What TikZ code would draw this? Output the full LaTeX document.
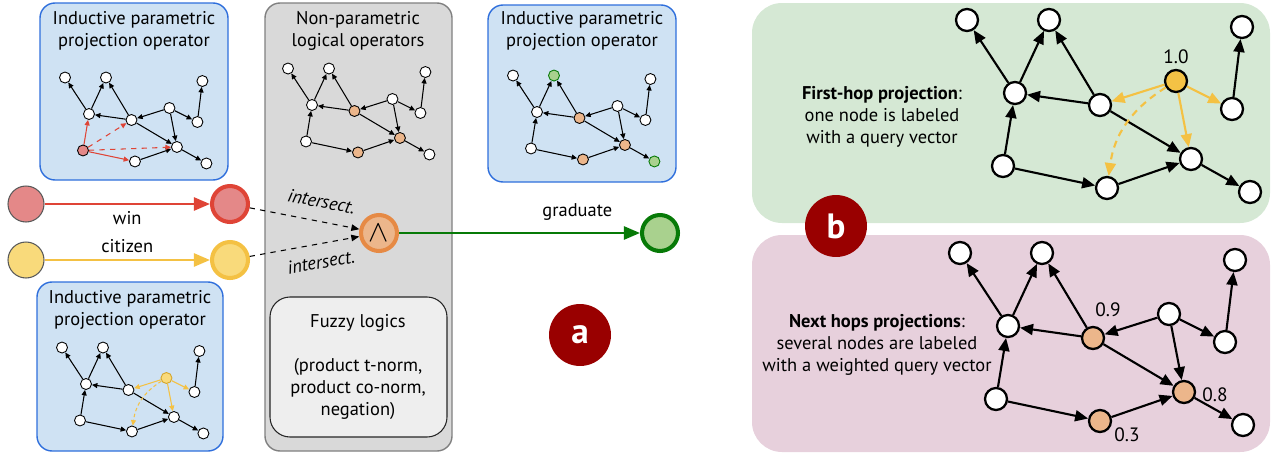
\documentclass[tikz,border=0pt]{standalone}
\usepackage{fontspec}
\setmainfont{PT Sans}
\usetikzlibrary{arrows.meta,positioning}

\definecolor{boxblue}{HTML}{CFE2F3}
\definecolor{boxblueline}{HTML}{2F6FDC}
\definecolor{logicfill}{HTML}{D9D9D9}
\definecolor{logicline}{HTML}{808080}
\definecolor{fuzzyfill}{HTML}{EEEEEE}
\definecolor{greenpanel}{HTML}{D5E8D4}
\definecolor{pinkpanel}{HTML}{E7D0DC}
\definecolor{badgered}{HTML}{990000}
\definecolor{rednode}{HTML}{E48888}
\definecolor{redline}{HTML}{DF4436}
\definecolor{yellownode}{HTML}{F9DA7B}
\definecolor{yellowline}{HTML}{F4C143}
\definecolor{yellowdark}{HTML}{D4A52A}
\definecolor{bigyellow}{HTML}{F4C245}
\definecolor{orangenode}{HTML}{ECB68B}
\definecolor{orangeline}{HTML}{E68A45}
\definecolor{greennode}{HTML}{A9D18E}
\definecolor{greenline}{HTML}{077A07}

\tikzset{
 nA/.style={}, nB/.style={}, nC/.style={}, nD/.style={}, nE/.style={}, nF/.style={},
 nG/.style={}, nH/.style={}, nI/.style={}, nJ/.style={}, nK/.style={},
 fromF/.style={}, fromH/.style={},
 kg/.style={circle, draw, fill=white, inner sep=0pt},
 kge/.style={draw},
 small graph/.style={x=0.01cm, y=-0.01cm,
  kg/.append style={minimum size=0.22cm, line width=0.5pt},
  kge/.append style={line width=0.6pt, -{Triangle[length=1.1mm,width=1mm]}}},
 big graph/.style={
  kg/.append style={minimum size=0.44cm, line width=1.3pt},
  kge/.append style={line width=1.2pt, -{Triangle[length=2.6mm,width=2.2mm]}}},
 opbox/.style={draw=boxblueline, fill=boxblue, line width=0.8pt, rounded corners=0.3cm},
 logicbox/.style={draw=logicline, fill=logicfill, line width=0.8pt, rounded corners=0.3cm},
 fuzzybox/.style={draw=black!85, fill=fuzzyfill, line width=0.6pt, rounded corners=0.4cm},
 hopbox/.style={rounded corners=0.6cm},
 title/.style={align=center},
 numlab/.style={font=\fontsize{11}{13}\selectfont},
 badge/.style={circle, fill=badgered, text=white, minimum size=1.24cm, inner sep=0pt,
  font=\fontsize{20}{24}\selectfont\bfseries},
 srcnode/.style={circle, draw=black!65, line width=0.6pt, minimum size=0.72cm, inner sep=0pt},
 relnode/.style={circle, line width=2.3pt, minimum size=0.72cm, inner sep=0pt},
 rel/.style={line width=1.4pt, -{Triangle[length=3.2mm,width=2.6mm]}},
 meet/.style={dashed, line width=0.6pt, -{Triangle[length=1.6mm,width=1.3mm]}},
}

% the same knowledge graph in every panel
\newcommand{\kgnodes}[1]{%
 \node[kg,nA] (#1A) at (-48,-73) {};%
 \node[kg,nB] (#1B) at (34,-73) {};%
 \node[kg,nC] (#1C) at (227,-66) {};%
 \node[kg,nD] (#1D) at (0,0) {};%
 \node[kg,nE] (#1E) at (85,12) {};%
 \node[kg,nF] (#1F) at (161,-12) {};%
 \node[kg,nG] (#1G) at (217,16) {};%
 \node[kg,nH] (#1H) at (-12,73) {};%
 \node[kg,nI] (#1I) at (92,95) {};%
 \node[kg,nJ] (#1J) at (176,66) {};%
 \node[kg,nK] (#1K) at (235,99) {};%
}
\newcommand{\kgedges}[1]{%
 \draw[kge] (#1D) -- (#1A);%
 \draw[kge] (#1D) -- (#1B);%
 \draw[kge] (#1E) -- (#1B);%
 \draw[kge] (#1E) -- (#1D);%
 \draw[kge] (#1E) -- (#1J);%
 \draw[kge] (#1G) -- (#1C);%
 \draw[kge,fromF] (#1F) -- (#1E);%
 \draw[kge,fromF] (#1F) -- (#1G);%
 \draw[kge,fromF] (#1F) -- (#1J);%
 \draw[kge,fromH] (#1H) -- (#1D);%
 \draw[kge,fromH] (#1H) -- (#1I);%
 \draw[kge] (#1I) -- (#1J);%
 \draw[kge] (#1J) -- (#1K);%
}

\begin{document}
\begin{tikzpicture}[x=0.02cm, y=-0.02cm, every node/.style={font=\fontsize{10.5}{12.5}\selectfont}]
  \useasboundingbox (0,0) rectangle (1274,453);
  % panels
  \path[opbox] (40,3) rectangle (228,180);
  \path[logicbox] (265,3) rectangle (452,451);
  \path[opbox] (488,5) rectangle (676,182);
  \path[opbox] (37,282) rectangle (223,451);
  \path[fuzzybox] (270,297) rectangle (447,437);
  \path[hopbox, fill=greenpanel] (752,3) rectangle (1270,223);
  \path[hopbox, fill=pinkpanel] (752,235) rectangle (1270,452);

  \node[title] (tltitle) at (134,31) {Inductive parametric\\projection operator};
  \node[title] (nptitle) at (358,31) {Non-parametric\\logical operators};
  \node[title] (trtitle) at (582,31) {Inductive parametric\\projection operator};
  \node[title] (bltitle) at (130,310) {Inductive parametric\\projection operator};
  \node[title] (fuzzy) at (358,367) {Fuzzy logics\\[12.5pt](product t-norm,\\product co-norm,\\negation)};

  % small graphs
  \begin{scope}[shift={(89,114)}, small graph, nH/.style={fill=rednode}, fromH/.style={draw=redline}]
   \kgnodes{tl}
   \kgedges{tl}
   \draw[kge, draw=redline, dashed] (tlH) -- (tlE);
   \draw[kge, draw=redline, dashed] (tlH) -- (tlJ);
  \end{scope}
  \begin{scope}[shift={(312,105)}, small graph, nE/.style={fill=orangenode}, nI/.style={fill=orangenode}, nJ/.style={fill=orangenode}]
   \kgnodes{np}
   \kgedges{np}
  \end{scope}
  \begin{scope}[shift={(537,112)}, small graph, nE/.style={fill=orangenode}, nI/.style={fill=orangenode}, nJ/.style={fill=orangenode},
    nB/.style={fill=greennode, draw=greenline}, nK/.style={fill=greennode, draw=greenline}]
   \kgnodes{tr}
   \kgedges{tr}
  \end{scope}
  \begin{scope}[shift={(86,384)}, small graph, nF/.style={fill=yellownode, draw=yellowdark}, fromF/.style={draw=yellowline}]
   \kgnodes{bl}
   \kgedges{bl}
   \draw[kge, draw=yellowline, dash pattern=on 2pt off 1.5pt] (blF) to[bend right=25] (blI);
  \end{scope}

  % query
  \node[srcnode, fill=rednode] (winsrc) at (26,204) {};
  \node[relnode, fill=rednode, draw=redline] (wintgt) at (230,204) {};
  \node[srcnode, fill=yellownode] (citsrc) at (26,260) {};
  \node[relnode, fill=yellownode, draw=yellowline] (cittgt) at (230,260) {};
  \node[relnode, fill=orangenode, draw=orangeline] (andop) at (379,233) {\fontsize{17}{17}\selectfont$\wedge$};
  \node[relnode, fill=greennode, draw=greenline] (gradtgt) at (660,233) {};
  \draw[rel, draw=redline] (winsrc) -- node[below] (winlab) {win} (wintgt);
  \draw[rel, draw=yellowline] (citsrc) -- node[above] (citlab) {citizen} (cittgt);
  \draw[rel, draw=greenline] (andop) -- node[above=3pt, pos=0.74] (gradlab) {graduate} (gradtgt);
  \draw[meet] (wintgt) -- node[above=4pt, sloped, pos=0.62] (intup) {\itshape intersect.} (andop);
  \draw[meet] (cittgt) -- node[below=3pt, sloped, pos=0.62] (intdown) {\itshape intersect.} (andop);

  \node[badge] (bada) at (580,335) {a};

  % first hop
  \node[title] (fhtext) at (882,117) {\textbf{First-hop projection}:\\one node is labeled\\with a query vector};
  \begin{scope}[shift={(1015,93)}, big graph, nF/.style={fill=bigyellow}, fromF/.style={draw=yellowline}]
   \kgnodes{fh}
   \kgedges{fh}
   \draw[kge, draw=yellowline, dash pattern=on 4pt off 3pt] (fhF) to[bend right=25] (fhI);
   \node[numlab] (fhval) at (161,-36) {1.0};
  \end{scope}

  % next hops
  \node[title] (nhtext) at (877,345) {\textbf{Next hops projections}:\\several nodes are labeled\\with a weighted query vector};
  \begin{scope}[shift={(1008,326)}, big graph, nE/.style={fill=orangenode}, nI/.style={fill=orangenode}, nJ/.style={fill=orangenode}]
   \kgnodes{nh}
   \kgedges{nh}
   \node[numlab] (nhvalE) at (100,-16) {0.9};
   \node[numlab] (nhvalJ) at (207,69) {0.8};
   \node[numlab] (nhvalI) at (119,109) {0.3};
  \end{scope}

  \node[badge] (badb) at (836,226) {b};
\end{tikzpicture}
\end{document}
